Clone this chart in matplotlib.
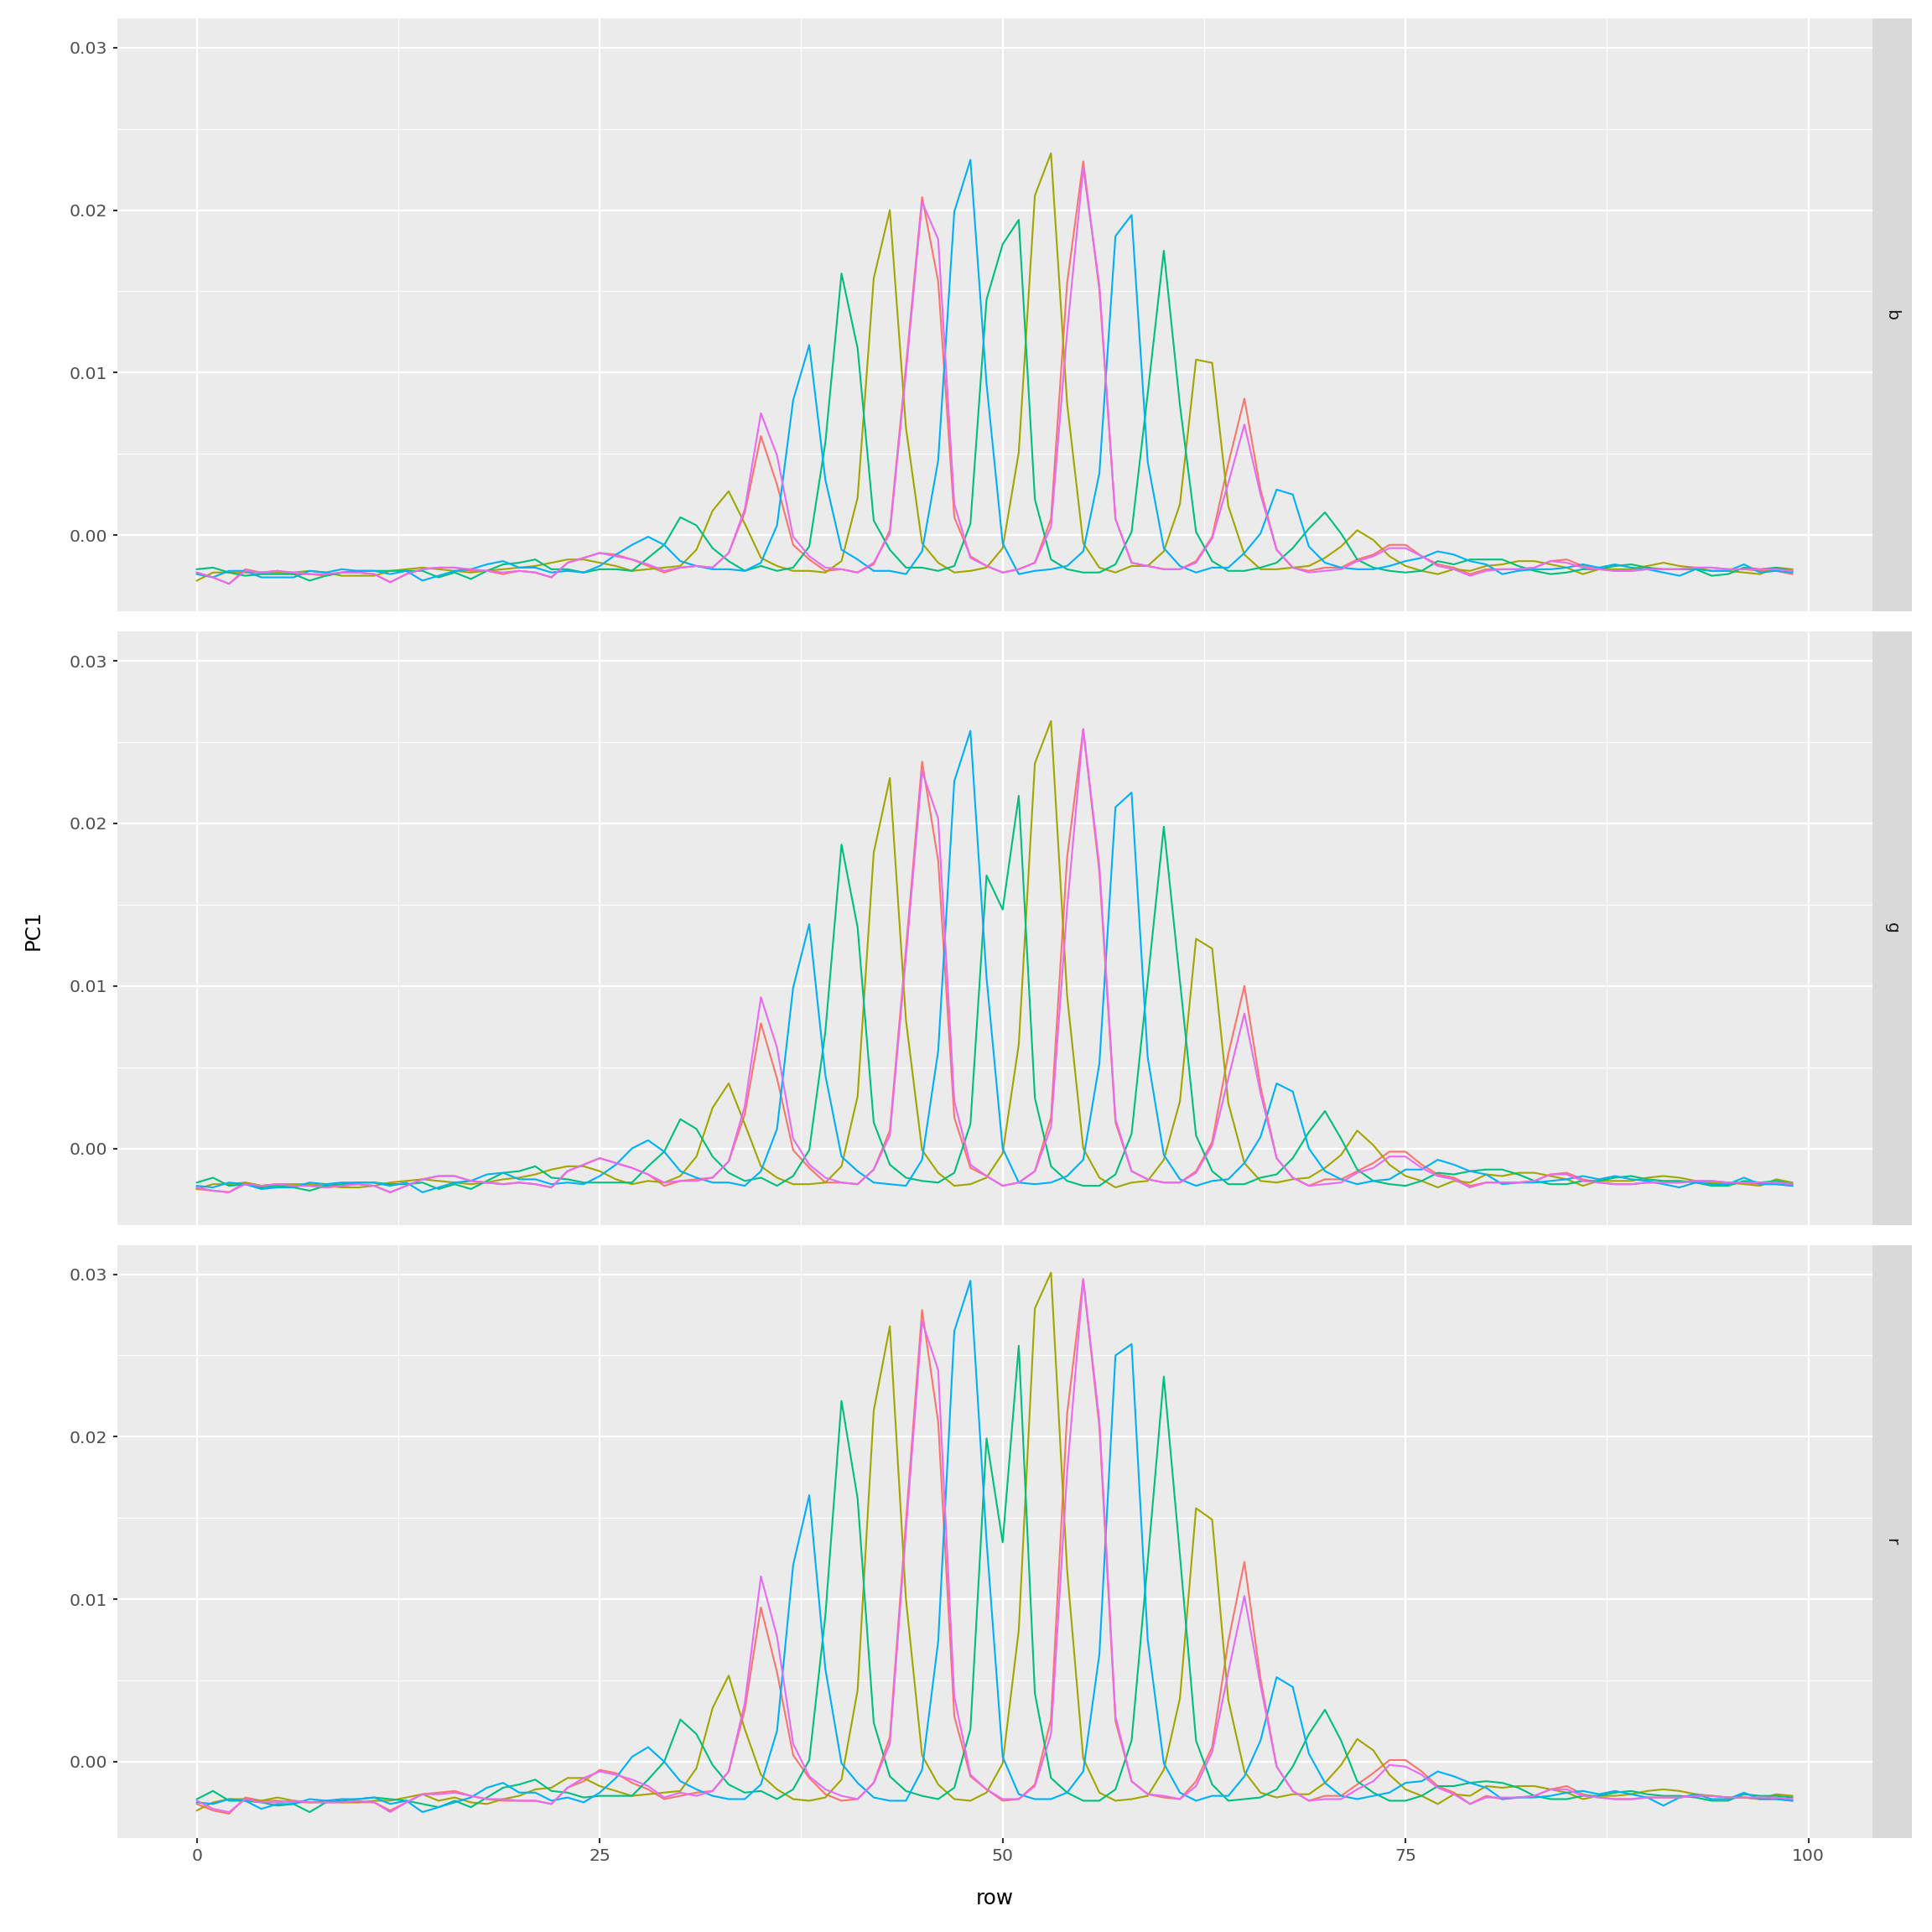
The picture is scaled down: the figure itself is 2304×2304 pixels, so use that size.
import numpy as np
import matplotlib
matplotlib.use("Agg")
import matplotlib.pyplot as plt
from matplotlib.ticker import FixedLocator

# ----------------------------
# Data
# ----------------------------

rows = np.arange(100)
facets = ["b", "g", "r"]
series_colors = ["#F8766D", "#A3A500", "#00BF7D", "#00B0F6", "#E76BF3"]

# --- facet b ---
b_red = [
    -0.0023, -0.0026, -0.0030, -0.0021, -0.0023, -0.0022, -0.0024, -0.0024, -0.0025, -0.0023,
    -0.0023, -0.0024, -0.0029, -0.0024, -0.0021, -0.0020, -0.0020, -0.0022, -0.0022, -0.0024,
    -0.0022, -0.0023, -0.0026, -0.0017, -0.0014, -0.0011, -0.0012, -0.0015, -0.0019, -0.0023,
    -0.0020, -0.0019, -0.0020, -0.0011, 0.0014, 0.0061, 0.0031, -0.0006, -0.0015, -0.0022,
    -0.0021, -0.0023, -0.0018, 0.0003, 0.0104, 0.0208, 0.0156, 0.0011, -0.0013, -0.0019,
    -0.0023, -0.0021, -0.0017, 0.0010, 0.0155, 0.0230, 0.0151, 0.0010, -0.0017, -0.0019,
    -0.0021, -0.0021, -0.0016, -0.0001, 0.0044, 0.0084, 0.0028, -0.0009, -0.0020, -0.0022,
    -0.0020, -0.0020, -0.0015, -0.0012, -0.0006, -0.0006, -0.0013, -0.0018, -0.0020, -0.0024,
    -0.0021, -0.0021, -0.0021, -0.0020, -0.0016, -0.0015, -0.0019, -0.0021, -0.0022, -0.0022,
    -0.0021, -0.0021, -0.0021, -0.0020, -0.0020, -0.0021, -0.0021, -0.0022, -0.0022, -0.0024,
]
b_olive = [
    -0.0028, -0.0023, -0.0023, -0.0023, -0.0023, -0.0023, -0.0023, -0.0022, -0.0023, -0.0025,
    -0.0025, -0.0025, -0.0022, -0.0021, -0.0020, -0.0021, -0.0022, -0.0023, -0.0022, -0.0021,
    -0.0020, -0.0019, -0.0017, -0.0015, -0.0015, -0.0017, -0.0019, -0.0022, -0.0021, -0.0020,
    -0.0019, -0.0009, 0.0015, 0.0027, 0.0007, -0.0014, -0.0019, -0.0022, -0.0022, -0.0023,
    -0.0016, 0.0023, 0.0158, 0.0200, 0.0066, -0.0005, -0.0017, -0.0023, -0.0022, -0.0020,
    -0.0008, 0.0051, 0.0209, 0.0235, 0.0081, -0.0005, -0.0020, -0.0023, -0.0019, -0.0019,
    -0.0010, 0.0019, 0.0108, 0.0106, 0.0018, -0.0012, -0.0021, -0.0021, -0.0020, -0.0019,
    -0.0014, -0.0007, 0.0003, -0.0003, -0.0013, -0.0019, -0.0022, -0.0024, -0.0021, -0.0022,
    -0.0019, -0.0018, -0.0016, -0.0016, -0.0018, -0.0020, -0.0024, -0.0021, -0.0021, -0.0021,
    -0.0019, -0.0017, -0.0019, -0.0020, -0.0022, -0.0022, -0.0023, -0.0024, -0.0020, -0.0021,
]
b_green = [
    -0.0021, -0.0020, -0.0023, -0.0025, -0.0024, -0.0024, -0.0024, -0.0028, -0.0025, -0.0023,
    -0.0022, -0.0022, -0.0022, -0.0022, -0.0022, -0.0026, -0.0023, -0.0027, -0.0022, -0.0018,
    -0.0017, -0.0015, -0.0021, -0.0021, -0.0023, -0.0021, -0.0021, -0.0022, -0.0014, -0.0006,
    0.0011, 0.0006, -0.0008, -0.0016, -0.0022, -0.0019, -0.0022, -0.0020, -0.0007, 0.0057,
    0.0161, 0.0115, 0.0009, -0.0009, -0.0020, -0.0020, -0.0022, -0.0019, 0.0007, 0.0145,
    0.0179, 0.0194, 0.0022, -0.0015, -0.0021, -0.0023, -0.0023, -0.0018, 0.0002, 0.0087,
    0.0175, 0.0080, 0.0002, -0.0016, -0.0022, -0.0022, -0.0020, -0.0017, -0.0008, 0.0004,
    0.0014, 0.0001, -0.0015, -0.0020, -0.0022, -0.0023, -0.0022, -0.0016, -0.0018, -0.0015,
    -0.0015, -0.0015, -0.0019, -0.0022, -0.0024, -0.0023, -0.0021, -0.0021, -0.0019, -0.0018,
    -0.0020, -0.0021, -0.0021, -0.0021, -0.0025, -0.0024, -0.0020, -0.0021, -0.0020, -0.0022,
]
b_blue = [
    -0.0024, -0.0026, -0.0022, -0.0022, -0.0026, -0.0026, -0.0026, -0.0022, -0.0023, -0.0021,
    -0.0022, -0.0022, -0.0024, -0.0022, -0.0028, -0.0025, -0.0022, -0.0021, -0.0018, -0.0016,
    -0.0020, -0.0020, -0.0023, -0.0022, -0.0023, -0.0019, -0.0012, -0.0006, -0.0001, -0.0006,
    -0.0016, -0.0019, -0.0021, -0.0021, -0.0022, -0.0017, 0.0006, 0.0083, 0.0117, 0.0034,
    -0.0009, -0.0015, -0.0022, -0.0022, -0.0024, -0.0010, 0.0046, 0.0199, 0.0231, 0.0093,
    -0.0005, -0.0024, -0.0022, -0.0021, -0.0019, -0.0010, 0.0038, 0.0184, 0.0197, 0.0045,
    -0.0008, -0.0019, -0.0023, -0.0020, -0.0020, -0.0011, 0.0001, 0.0028, 0.0025, -0.0007,
    -0.0017, -0.0020, -0.0021, -0.0021, -0.0019, -0.0016, -0.0014, -0.0010, -0.0012, -0.0016,
    -0.0018, -0.0024, -0.0022, -0.0021, -0.0021, -0.0020, -0.0018, -0.0020, -0.0018, -0.0020,
    -0.0021, -0.0023, -0.0025, -0.0021, -0.0022, -0.0022, -0.0018, -0.0023, -0.0022, -0.0023,
]
b_pink = [
    -0.0023, -0.0026, -0.0030, -0.0022, -0.0023, -0.0022, -0.0023, -0.0024, -0.0024, -0.0023,
    -0.0023, -0.0024, -0.0029, -0.0024, -0.0021, -0.0020, -0.0020, -0.0021, -0.0022, -0.0023,
    -0.0022, -0.0023, -0.0026, -0.0017, -0.0014, -0.0011, -0.0013, -0.0015, -0.0018, -0.0022,
    -0.0020, -0.0019, -0.0020, -0.0011, 0.0016, 0.0075, 0.0049, -0.0001, -0.0013, -0.0020,
    -0.0021, -0.0023, -0.0017, 0.0001, 0.0100, 0.0205, 0.0182, 0.0019, -0.0014, -0.0019,
    -0.0023, -0.0021, -0.0017, 0.0005, 0.0125, 0.0226, 0.0154, 0.0010, -0.0017, -0.0019,
    -0.0021, -0.0021, -0.0017, -0.0002, 0.0032, 0.0068, 0.0025, -0.0009, -0.0020, -0.0023,
    -0.0022, -0.0021, -0.0016, -0.0013, -0.0008, -0.0008, -0.0013, -0.0019, -0.0021, -0.0025,
    -0.0022, -0.0021, -0.0021, -0.0020, -0.0016, -0.0017, -0.0020, -0.0021, -0.0022, -0.0022,
    -0.0021, -0.0021, -0.0021, -0.0020, -0.0020, -0.0021, -0.0021, -0.0021, -0.0021, -0.0022,
]

# --- facet g ---
g_red = [
    -0.0025, -0.0026, -0.0027, -0.0021, -0.0023, -0.0022, -0.0023, -0.0023, -0.0024, -0.0023,
    -0.0022, -0.0023, -0.0027, -0.0023, -0.0019, -0.0017, -0.0017, -0.0020, -0.0021, -0.0022,
    -0.0021, -0.0022, -0.0024, -0.0014, -0.0010, -0.0006, -0.0009, -0.0012, -0.0016, -0.0023,
    -0.0020, -0.0019, -0.0018, -0.0008, 0.0021, 0.0077, 0.0043, -0.0001, -0.0012, -0.0021,
    -0.0021, -0.0022, -0.0013, 0.0011, 0.0123, 0.0238, 0.0177, 0.0019, -0.0012, -0.0017,
    -0.0023, -0.0021, -0.0014, 0.0019, 0.0179, 0.0258, 0.0170, 0.0016, -0.0014, -0.0019,
    -0.0021, -0.0021, -0.0014, 0.0004, 0.0058, 0.0100, 0.0038, -0.0006, -0.0018, -0.0023,
    -0.0019, -0.0019, -0.0014, -0.0009, -0.0002, -0.0002, -0.0010, -0.0016, -0.0018, -0.0023,
    -0.0021, -0.0021, -0.0021, -0.0020, -0.0016, -0.0015, -0.0019, -0.0021, -0.0022, -0.0022,
    -0.0021, -0.0021, -0.0021, -0.0020, -0.0020, -0.0021, -0.0021, -0.0022, -0.0022, -0.0023,
]
g_olive = [
    -0.0025, -0.0022, -0.0022, -0.0021, -0.0023, -0.0022, -0.0022, -0.0022, -0.0023, -0.0024,
    -0.0024, -0.0023, -0.0021, -0.0020, -0.0019, -0.0020, -0.0021, -0.0022, -0.0021, -0.0019,
    -0.0018, -0.0016, -0.0013, -0.0011, -0.0011, -0.0014, -0.0019, -0.0022, -0.0020, -0.0021,
    -0.0017, -0.0005, 0.0025, 0.0040, 0.0015, -0.0011, -0.0018, -0.0022, -0.0022, -0.0021,
    -0.0011, 0.0032, 0.0182, 0.0228, 0.0079, -0.0001, -0.0015, -0.0023, -0.0022, -0.0018,
    -0.0003, 0.0064, 0.0237, 0.0263, 0.0094, 0.0000, -0.0018, -0.0024, -0.0021, -0.0020,
    -0.0007, 0.0029, 0.0129, 0.0123, 0.0028, -0.0009, -0.0020, -0.0021, -0.0019, -0.0018,
    -0.0012, -0.0004, 0.0011, 0.0002, -0.0010, -0.0017, -0.0020, -0.0024, -0.0020, -0.0021,
    -0.0016, -0.0017, -0.0015, -0.0015, -0.0017, -0.0019, -0.0023, -0.0020, -0.0020, -0.0020,
    -0.0018, -0.0017, -0.0018, -0.0020, -0.0021, -0.0021, -0.0022, -0.0023, -0.0019, -0.0021,
]
g_green = [
    -0.0021, -0.0018, -0.0023, -0.0022, -0.0024, -0.0023, -0.0024, -0.0026, -0.0023, -0.0022,
    -0.0021, -0.0021, -0.0022, -0.0022, -0.0021, -0.0025, -0.0022, -0.0025, -0.0020, -0.0015,
    -0.0014, -0.0011, -0.0018, -0.0019, -0.0021, -0.0021, -0.0021, -0.0021, -0.0011, -0.0002,
    0.0018, 0.0012, -0.0005, -0.0015, -0.0020, -0.0018, -0.0023, -0.0017, -0.0001, 0.0072,
    0.0187, 0.0136, 0.0016, -0.0010, -0.0018, -0.0020, -0.0021, -0.0015, 0.0015, 0.0168,
    0.0147, 0.0217, 0.0031, -0.0011, -0.0020, -0.0023, -0.0023, -0.0016, 0.0009, 0.0103,
    0.0198, 0.0103, 0.0008, -0.0014, -0.0022, -0.0022, -0.0018, -0.0016, -0.0006, 0.0010,
    0.0023, 0.0006, -0.0013, -0.0020, -0.0022, -0.0023, -0.0020, -0.0015, -0.0016, -0.0014,
    -0.0013, -0.0013, -0.0016, -0.0020, -0.0022, -0.0022, -0.0020, -0.0020, -0.0018, -0.0017,
    -0.0019, -0.0020, -0.0020, -0.0021, -0.0023, -0.0023, -0.0020, -0.0021, -0.0020, -0.0022,
]
g_blue = [
    -0.0023, -0.0024, -0.0021, -0.0022, -0.0025, -0.0024, -0.0024, -0.0021, -0.0022, -0.0021,
    -0.0021, -0.0021, -0.0023, -0.0021, -0.0027, -0.0024, -0.0021, -0.0020, -0.0016, -0.0015,
    -0.0019, -0.0019, -0.0022, -0.0021, -0.0022, -0.0017, -0.0010, 0.0000, 0.0005, -0.0002,
    -0.0014, -0.0018, -0.0021, -0.0021, -0.0023, -0.0014, 0.0012, 0.0099, 0.0138, 0.0045,
    -0.0005, -0.0014, -0.0021, -0.0022, -0.0023, -0.0007, 0.0060, 0.0226, 0.0257, 0.0105,
    0.0000, -0.0021, -0.0022, -0.0021, -0.0017, -0.0007, 0.0052, 0.0210, 0.0219, 0.0056,
    -0.0004, -0.0019, -0.0023, -0.0020, -0.0019, -0.0009, 0.0007, 0.0040, 0.0035, 0.0000,
    -0.0014, -0.0019, -0.0022, -0.0020, -0.0019, -0.0013, -0.0013, -0.0007, -0.0010, -0.0014,
    -0.0016, -0.0022, -0.0021, -0.0021, -0.0020, -0.0019, -0.0017, -0.0019, -0.0017, -0.0019,
    -0.0020, -0.0022, -0.0024, -0.0021, -0.0022, -0.0022, -0.0018, -0.0022, -0.0022, -0.0023,
]
g_pink = [
    -0.0024, -0.0026, -0.0027, -0.0022, -0.0023, -0.0022, -0.0023, -0.0023, -0.0024, -0.0023,
    -0.0022, -0.0023, -0.0027, -0.0023, -0.0019, -0.0017, -0.0017, -0.0020, -0.0021, -0.0022,
    -0.0021, -0.0022, -0.0024, -0.0014, -0.0010, -0.0006, -0.0009, -0.0012, -0.0016, -0.0021,
    -0.0020, -0.0020, -0.0018, -0.0008, 0.0026, 0.0093, 0.0062, 0.0006, -0.0010, -0.0018,
    -0.0021, -0.0022, -0.0013, 0.0008, 0.0118, 0.0232, 0.0203, 0.0029, -0.0010, -0.0017,
    -0.0023, -0.0021, -0.0014, 0.0013, 0.0148, 0.0258, 0.0174, 0.0018, -0.0014, -0.0019,
    -0.0021, -0.0021, -0.0015, 0.0002, 0.0043, 0.0083, 0.0034, -0.0006, -0.0018, -0.0023,
    -0.0022, -0.0021, -0.0015, -0.0012, -0.0005, -0.0005, -0.0012, -0.0017, -0.0019, -0.0024,
    -0.0021, -0.0021, -0.0021, -0.0020, -0.0016, -0.0016, -0.0020, -0.0021, -0.0022, -0.0022,
    -0.0021, -0.0021, -0.0021, -0.0020, -0.0020, -0.0021, -0.0021, -0.0021, -0.0021, -0.0022,
]

# --- facet r ---
r_red = [
    -0.0026, -0.0030, -0.0032, -0.0022, -0.0024, -0.0024, -0.0025, -0.0025, -0.0025, -0.0025,
    -0.0025, -0.0025, -0.0030, -0.0025, -0.0020, -0.0019, -0.0018, -0.0021, -0.0023, -0.0024,
    -0.0024, -0.0024, -0.0026, -0.0016, -0.0012, -0.0005, -0.0007, -0.0013, -0.0017, -0.0023,
    -0.0021, -0.0019, -0.0018, -0.0006, 0.0032, 0.0095, 0.0055, 0.0004, -0.0010, -0.0020,
    -0.0024, -0.0023, -0.0013, 0.0015, 0.0148, 0.0278, 0.0209, 0.0028, -0.0009, -0.0017,
    -0.0024, -0.0023, -0.0014, 0.0026, 0.0214, 0.0297, 0.0206, 0.0025, -0.0012, -0.0020,
    -0.0022, -0.0023, -0.0012, 0.0009, 0.0074, 0.0123, 0.0051, -0.0003, -0.0018, -0.0024,
    -0.0021, -0.0021, -0.0014, -0.0007, 0.0001, 0.0001, -0.0006, -0.0015, -0.0019, -0.0026,
    -0.0021, -0.0023, -0.0022, -0.0021, -0.0017, -0.0015, -0.0020, -0.0022, -0.0023, -0.0023,
    -0.0022, -0.0022, -0.0022, -0.0021, -0.0021, -0.0022, -0.0022, -0.0023, -0.0023, -0.0024,
]
r_olive = [
    -0.0030, -0.0025, -0.0023, -0.0023, -0.0024, -0.0022, -0.0024, -0.0025, -0.0024, -0.0025,
    -0.0025, -0.0024, -0.0024, -0.0022, -0.0020, -0.0024, -0.0022, -0.0025, -0.0026, -0.0023,
    -0.0021, -0.0017, -0.0016, -0.0010, -0.0010, -0.0015, -0.0018, -0.0021, -0.0020, -0.0019,
    -0.0018, -0.0004, 0.0033, 0.0053, 0.0020, -0.0008, -0.0017, -0.0023, -0.0024, -0.0022,
    -0.0011, 0.0044, 0.0216, 0.0268, 0.0100, 0.0004, -0.0014, -0.0023, -0.0024, -0.0019,
    -0.0001, 0.0081, 0.0279, 0.0301, 0.0118, 0.0002, -0.0019, -0.0024, -0.0023, -0.0021,
    -0.0005, 0.0039, 0.0156, 0.0149, 0.0038, -0.0006, -0.0019, -0.0022, -0.0020, -0.0020,
    -0.0013, -0.0002, 0.0014, 0.0007, -0.0008, -0.0017, -0.0021, -0.0026, -0.0020, -0.0021,
    -0.0015, -0.0016, -0.0015, -0.0015, -0.0017, -0.0019, -0.0023, -0.0021, -0.0021, -0.0020,
    -0.0018, -0.0017, -0.0018, -0.0020, -0.0021, -0.0022, -0.0022, -0.0023, -0.0020, -0.0021,
]
r_green = [
    -0.0023, -0.0018, -0.0024, -0.0024, -0.0025, -0.0027, -0.0026, -0.0031, -0.0025, -0.0024,
    -0.0023, -0.0022, -0.0023, -0.0024, -0.0026, -0.0028, -0.0024, -0.0028, -0.0022, -0.0016,
    -0.0014, -0.0011, -0.0018, -0.0019, -0.0022, -0.0021, -0.0021, -0.0021, -0.0011, 0.0000,
    0.0026, 0.0017, -0.0002, -0.0014, -0.0019, -0.0018, -0.0023, -0.0017, 0.0001, 0.0090,
    0.0222, 0.0162, 0.0024, -0.0009, -0.0018, -0.0021, -0.0023, -0.0016, 0.0020, 0.0199,
    0.0135, 0.0256, 0.0042, -0.0010, -0.0019, -0.0024, -0.0024, -0.0017, 0.0013, 0.0123,
    0.0237, 0.0127, 0.0013, -0.0014, -0.0024, -0.0023, -0.0022, -0.0017, -0.0003, 0.0017,
    0.0032, 0.0013, -0.0012, -0.0019, -0.0024, -0.0024, -0.0021, -0.0015, -0.0015, -0.0013,
    -0.0012, -0.0013, -0.0016, -0.0021, -0.0023, -0.0023, -0.0021, -0.0021, -0.0019, -0.0018,
    -0.0020, -0.0021, -0.0021, -0.0022, -0.0024, -0.0024, -0.0020, -0.0021, -0.0021, -0.0022,
]
r_blue = [
    -0.0025, -0.0026, -0.0023, -0.0024, -0.0029, -0.0026, -0.0026, -0.0023, -0.0024, -0.0023,
    -0.0023, -0.0022, -0.0026, -0.0024, -0.0031, -0.0028, -0.0025, -0.0022, -0.0016, -0.0013,
    -0.0019, -0.0019, -0.0024, -0.0022, -0.0025, -0.0019, -0.0010, 0.0003, 0.0009, 0.0000,
    -0.0012, -0.0017, -0.0021, -0.0023, -0.0023, -0.0014, 0.0019, 0.0121, 0.0164, 0.0057,
    -0.0001, -0.0013, -0.0022, -0.0024, -0.0024, -0.0005, 0.0074, 0.0265, 0.0296, 0.0136,
    0.0003, -0.0020, -0.0023, -0.0023, -0.0019, -0.0006, 0.0066, 0.0250, 0.0257, 0.0075,
    -0.0001, -0.0019, -0.0024, -0.0021, -0.0021, -0.0009, 0.0013, 0.0052, 0.0046, 0.0005,
    -0.0013, -0.0021, -0.0023, -0.0021, -0.0019, -0.0013, -0.0012, -0.0006, -0.0009, -0.0013,
    -0.0016, -0.0023, -0.0022, -0.0022, -0.0021, -0.0019, -0.0018, -0.0020, -0.0018, -0.0020,
    -0.0022, -0.0027, -0.0022, -0.0020, -0.0023, -0.0023, -0.0019, -0.0023, -0.0023, -0.0024,
]
r_pink = [
    -0.0024, -0.0029, -0.0031, -0.0023, -0.0025, -0.0025, -0.0024, -0.0025, -0.0025, -0.0025,
    -0.0024, -0.0025, -0.0031, -0.0025, -0.0020, -0.0020, -0.0019, -0.0021, -0.0023, -0.0023,
    -0.0024, -0.0024, -0.0026, -0.0016, -0.0010, -0.0006, -0.0008, -0.0011, -0.0015, -0.0022,
    -0.0019, -0.0021, -0.0018, -0.0006, 0.0036, 0.0114, 0.0077, 0.0011, -0.0009, -0.0017,
    -0.0021, -0.0023, -0.0013, 0.0011, 0.0142, 0.0271, 0.0241, 0.0040, -0.0008, -0.0017,
    -0.0023, -0.0023, -0.0015, 0.0017, 0.0178, 0.0297, 0.0210, 0.0028, -0.0012, -0.0020,
    -0.0021, -0.0023, -0.0015, 0.0006, 0.0055, 0.0102, 0.0047, -0.0003, -0.0018, -0.0024,
    -0.0023, -0.0023, -0.0017, -0.0012, -0.0002, -0.0003, -0.0008, -0.0016, -0.0020, -0.0026,
    -0.0022, -0.0022, -0.0022, -0.0021, -0.0017, -0.0017, -0.0021, -0.0022, -0.0023, -0.0023,
    -0.0022, -0.0022, -0.0022, -0.0021, -0.0021, -0.0022, -0.0022, -0.0022, -0.0022, -0.0023,
]

panel_series = {
    "b": [b_red, b_olive, b_green, b_blue, b_pink],
    "g": [g_red, g_olive, g_green, g_blue, g_pink],
    "r": [r_red, r_olive, r_green, r_blue, r_pink],
}

# ----------------------------
# ggplot-like styling
# ----------------------------

PANEL_BG = "#EBEBEB"
STRIP_BG = "#D9D9D9"
TICK_COLOR = "#333333"
LABEL_COLOR = "#4D4D4D"

plt.rcParams["font.family"] = ["DejaVu Sans"]

fig, axes = plt.subplots(3, 1, figsize=(16, 16), dpi=144, sharex=True)
fig.subplots_adjust(left=0.0606, right=0.969, top=0.9905, bottom=0.0486, hspace=0.034)

for ax, name in zip(axes, facets):
    ax.set_facecolor(PANEL_BG)
    for vals, col in zip(panel_series[name], series_colors):
        ax.plot(rows, vals, color=col, lw=1.05, solid_joinstyle="round")

    ax.set_xlim(-4.95, 103.95)
    ax.set_ylim(-0.0047, 0.0318)

    ax.xaxis.set_major_locator(FixedLocator([0, 25, 50, 75, 100]))
    ax.xaxis.set_minor_locator(FixedLocator([12.5, 37.5, 62.5, 87.5]))
    ax.yaxis.set_major_locator(FixedLocator([0.0, 0.01, 0.02, 0.03]))
    ax.yaxis.set_minor_locator(FixedLocator([0.005, 0.015, 0.025]))
    ax.set_yticklabels(["0.00", "0.01", "0.02", "0.03"])

    ax.grid(which="major", color="white", lw=1.1)
    ax.grid(which="minor", color="white", lw=0.55)
    ax.set_axisbelow(True)

    for sp in ax.spines.values():
        sp.set_visible(False)

    ax.tick_params(which="major", length=5.5 * 72 / 144, width=1.05,
                   color=TICK_COLOR, labelcolor=LABEL_COLOR, labelsize=10.2, pad=3)
    ax.tick_params(which="minor", length=0)
    # only the bottom facet carries x ticks and labels
    bottom_panel = name == "r"
    ax.tick_params(axis="x", bottom=bottom_panel, labelbottom=bottom_panel)

    # facet strip on the right side
    pos = ax.get_position()
    strip = fig.add_axes([pos.x1, pos.y0, 0.0204, pos.height])
    strip.set_facecolor(STRIP_BG)
    strip.set_xticks([])
    strip.set_yticks([])
    for sp in strip.spines.values():
        sp.set_visible(False)
    strip.text(0.5, 0.5, name, rotation=-90, ha="center", va="center",
               fontsize=10.2, color="#1A1A1A", transform=strip.transAxes)

fig.text(0.515, 0.0174, "row", ha="center", va="center", fontsize=12.3, color="black")
fig.text(0.0174, 0.5185, "PC1", ha="center", va="center", rotation=90,
         fontsize=12.3, color="black")

fig.savefig("out.png", dpi=144, facecolor="white")
